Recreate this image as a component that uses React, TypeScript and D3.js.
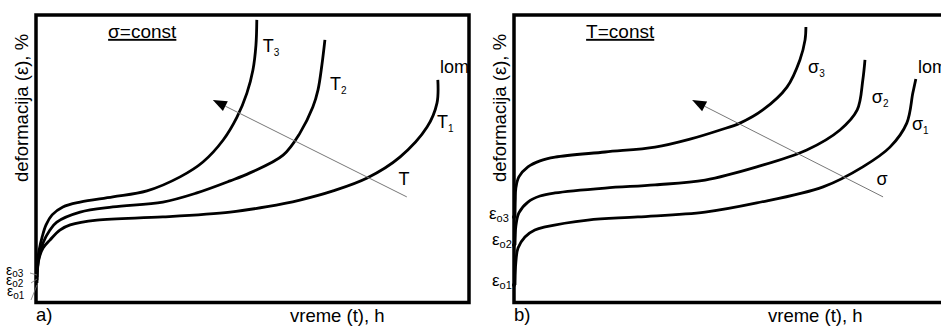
import React from 'react';
import * as d3 from 'd3';

// Creep curves, strain (%) vs time (h), both in 0..100 relative units
// a) sigma = const, rising temperature T1 < T2 < T3
const t1Time = [0, 0.1, 0.5, 1.4, 3.0, 5.3, 7.7, 13.9, 29.2, 44.8, 53.4, 61.0, 68.7, 76.6, 84.2, 90.5, 92.8, 93.0];
const t1Strain = [6.3, 10.8, 15.0, 18.5, 21.3, 24.8, 26.6, 28.3, 29.4, 31.1, 33.0, 35.3, 38.5, 43.0, 50.3, 60.8, 69.2, 77.3];
const t2Time = [0, 0.1, 0.5, 1.4, 3.0, 4.6, 10.0, 17.6, 29.2, 37.1, 44.8, 49.4, 57.1, 61.0, 64.0, 65.2, 66.1, 66.8];
const t2Strain = [7.3, 11.5, 15.7, 20.3, 24.8, 27.6, 31.1, 32.9, 34.6, 37.8, 42.0, 44.8, 51.0, 58.7, 67.8, 73.8, 82.5, 91.3];
const t3Time = [0, 0.1, 0.5, 1.2, 2.1, 3.5, 6.0, 10.0, 17.6, 25.5, 33.2, 38.5, 43.2, 46.4, 48.7, 50.1, 50.8, 51.0];
const t3Strain = [8.4, 13.6, 17.8, 22.4, 26.6, 30.1, 32.9, 34.6, 36.4, 38.5, 43.4, 48.6, 56.3, 64.3, 72.7, 80.8, 89.5, 98.3];

// b) T = const, rising stress s1 < s2 < s3
const s1Time = [0, 0.07, 0.2, 0.7, 2.3, 4.6, 7.0, 16.9, 28.5, 44.1, 56.1, 71.5, 80.7, 87.0, 90.9, 92.3, 93.0];
const s1Strain = [5.6, 10.1, 13.6, 18.5, 22.4, 24.8, 25.9, 28.3, 29.4, 31.1, 34.3, 39.9, 46.9, 53.8, 62.2, 72.7, 77.6];
const s2Time = [0, 0.07, 0.2, 0.9, 3.0, 5.8, 9.3, 20.9, 32.5, 44.1, 56.1, 67.7, 75.4, 79.4, 80.7, 81.2];
const s2Strain = [19.6, 23.1, 26.2, 30.8, 34.6, 36.7, 37.8, 39.5, 40.6, 42.3, 46.9, 52.8, 59.8, 66.8, 77.3, 84.3];
const s3Time = [0, 0.07, 0.2, 0.9, 3.0, 5.8, 9.3, 20.9, 32.5, 40.6, 47.6, 52.2, 57.5, 63.1, 66.1, 67.3, 67.5];
const s3Strain = [29.4, 35.3, 39.5, 43.4, 46.9, 49.0, 50.3, 52.1, 53.8, 56.6, 59.8, 62.2, 66.8, 74.8, 84.3, 91.3, 95.8];

// arrows: [time, strain] of tail and head
const leftArrow = [[85.8, 36.4], [40.8, 70.3]];
const rightArrow = [[85.4, 36.4], [41.1, 70.3]];

const leftSubs = ['1', '2', '3'];
const rightSubs = ['1', '2', '3'];

const FONT = "'Liberation Sans', Arial, sans-serif";

const zip = (t: number[], e: number[]) => t.map((v, i) => [v, e[i]] as [number, number]);

const Sub = ({ x, y, main, sub, size = 18, subSize = 10, dy = 4 }: any) => (
  <text x={x} y={y} fontSize={size} fontFamily={FONT} fill="#000">
    {main}
    <tspan fontSize={subSize} dy={dy}>{sub}</tspan>
  </text>
);

const Panel = ({ x0, curves, sym, subs, arrow, title, letter, left }: any) => {
  const x = d3.scaleLinear().domain([0, 100]).range([x0, x0 + 431]);
  const y = d3.scaleLinear().domain([0, 100]).range([301, 15]);
  const line = d3
    .line<[number, number]>()
    .x((d) => x(d[0]))
    .y((d) => y(d[1]))
    .curve(d3.curveCatmullRom.alpha(0.5));

  const [a0, a1] = arrow;
  const ax0 = x(a0[0]), ay0 = y(a0[1]), ax1 = x(a1[0]), ay1 = y(a1[1]);
  const ang = Math.atan2(ay1 - ay0, ax1 - ax0);
  const hl = 14, hw = 5.5;
  const bx = ax1 - hl * Math.cos(ang), by = ay1 - hl * Math.sin(ang);
  const head = [
    [ax1, ay1],
    [bx + hw * Math.sin(ang), by - hw * Math.cos(ang)],
    [bx - hw * Math.sin(ang), by + hw * Math.cos(ang)],
  ];

  const titleX = x(16.5);
  return (
    <g>
      <rect x={x0 - 1} y={15} width={left ? 433 : 460} height={287.5} fill="none" stroke="#000" strokeWidth={3.5} />
      {curves.map((c: [number, number][], i: number) => (
        <path key={i} d={line(c) || ''} fill="none" stroke="#000" strokeWidth={2.8} />
      ))}
      <line x1={ax0} y1={ay0} x2={bx} y2={by} stroke="#777" strokeWidth={1} />
      <polygon points={head.map((p) => p.join(',')).join(' ')} fill="#000" />
      <text x={titleX} y={y(92)} fontSize={19} fontFamily={FONT} textDecoration="underline">
        {title}
      </text>
      <text x={x(93.5)} y={y(79.7)} fontSize={18} fontFamily={FONT}>lom</text>
      <text x={x(83.9)} y={y(40.6)} fontSize={18} fontFamily={FONT}>{sym}</text>
      {left ? (
        <>
          <Sub x={x(52.4)} y={y(87.1)} main="T" sub={subs[2]} />
          <Sub x={x(68.0)} y={y(73.8)} main="T" sub={subs[1]} />
          <Sub x={x(92.8)} y={y(60.5)} main="T" sub={subs[0]} />
        </>
      ) : (
        <>
          <Sub x={x(68.0)} y={y(79.7)} main="σ" sub={subs[2]} />
          <Sub x={x(82.8)} y={y(69.2)} main="σ" sub={subs[1]} />
          <Sub x={x(92.1)} y={y(59.8)} main="σ" sub={subs[0]} />
        </>
      )}
      <text
        transform={`translate(${x0 - 9},${y(67.5)}) rotate(-90)`}
        textAnchor="middle"
        fontSize={18.5}
        fontFamily={FONT}
      >
        deformacija (ε), %
      </text>
      <text x={x0 - 1} y={321} fontSize={18.5} fontFamily={FONT}>{letter}</text>
      <text x={x(58.7)} y={322} fontSize={18.5} fontFamily={FONT}>vreme (t), h</text>
    </g>
  );
};

export default function App() {
  const leftCurves = [zip(t1Time, t1Strain), zip(t2Time, t2Strain), zip(t3Time, t3Strain)];
  const rightCurves = [zip(s1Time, s1Strain), zip(s2Time, s2Strain), zip(s3Time, s3Strain)];
  const yL = d3.scaleLinear().domain([0, 100]).range([301, 15]);
  const startsR = [s1Strain[0], s2Strain[0], s3Strain[0]];
  return (
    <svg width={941} height={326} style={{ position: 'absolute', left: 0, top: 0, background: '#fff' }}>
      <rect width={941} height={326} fill="#fff" />
      <Panel x0={37} curves={leftCurves} sym="T" subs={leftSubs} arrow={leftArrow} title="σ=const" letter="a)" left />
      <Panel x0={515} curves={rightCurves} sym="σ" subs={rightSubs} arrow={rightArrow} title="T=const" letter="b)" />
      {/* initial strain labels, left panel */}
      <g stroke="#777" strokeWidth={0.8}>
        <line x1={30} y1={273} x2={37} y2={275} />
        <line x1={31} y1={283} x2={37} y2={279} />
        <line x1={31} y1={300} x2={37} y2={285} />
      </g>
      <Sub x={6} y={275} main="ε" sub="o3" size={14} subSize={10} dy={2} />
      <Sub x={6} y={285} main="ε" sub="o2" size={14} subSize={10} dy={2} />
      <Sub x={7} y={296} main="ε" sub="o1" size={14} subSize={10} dy={3} />
      {/* initial strain labels, right panel */}
      {startsR.map((e, i) => (
        <circle key={i} cx={514} cy={yL(e)} r={2} fill="#000" />
      ))}
      <Sub x={489} y={219} main="ε" sub="o3" size={17} subSize={11} dy={3} />
      <Sub x={492} y={245} main="ε" sub="o2" size={17} subSize={11} dy={3} />
      <Sub x={492} y={286} main="ε" sub="o1" size={17} subSize={11} dy={3} />
    </svg>
  );
}
